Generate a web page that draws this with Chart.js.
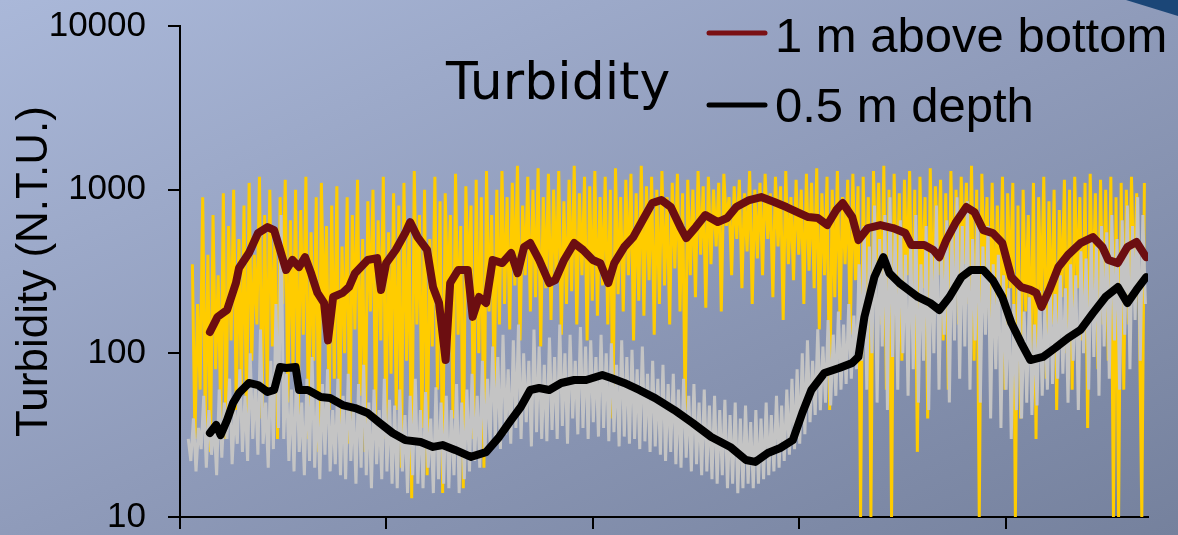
<!DOCTYPE html>
<html>
<head>
<meta charset="utf-8">
<title>Turbidity</title>
<script src="https://cdn.jsdelivr.net/npm/chart.js@4.4.1/dist/chart.umd.min.js"></script>
<style>
    html, body { margin: 0; padding: 0; }
    body {
        width: 1178px; height: 535px; overflow: hidden; position: relative;
        background: linear-gradient(to bottom right, rgb(170, 184, 217) 0%, rgb(143, 155, 186) 50%, rgb(117, 129, 157) 100%);
    }
    #chart-wrap { position: absolute; left: 0; top: 0; width: 1178px; height: 535px; }
    #corner {
        position: absolute; right: 0; top: 0; width: 52px; height: 16px;
        background: #1b4677; clip-path: polygon(0 0, 100% 0, 100% 100%);
    }
</style>
</head>
<body>
<div id="chart-wrap"><canvas id="turbidity-canvas" width="1178" height="535"></canvas></div>
<div id="corner"></div>
<script>
// time axis in days, values in N.T.U.
var xTicks = [0, 1, 2, 3, 4];
var yTicks = [10, 100, 1000, 10000];

var seriesLabels = ['1 m above bottom', '0.5 m depth'];

// smoothed, 1 m above bottom
var redDays = [0.145, 0.182, 0.228, 0.271, 0.286, 0.334, 0.378, 0.424, 0.456, 0.485, 0.514, 0.545, 0.577, 0.606, 0.635, 0.666, 0.698, 0.717, 0.742, 0.788,
    0.819, 0.848, 0.909, 0.955, 0.974, 0.999, 1.045, 1.091, 1.115, 1.151, 1.197, 1.226, 1.255, 1.287, 1.309, 1.348, 1.394, 1.418, 1.449, 1.483,
    1.515, 1.561, 1.604, 1.636, 1.667, 1.697, 1.740, 1.789, 1.818, 1.861, 1.910, 1.953, 2.000, 2.036, 2.075, 2.104, 2.152, 2.196, 2.242, 2.288,
    2.332, 2.378, 2.424, 2.453, 2.499, 2.545, 2.605, 2.651, 2.695, 2.758, 2.816, 2.879, 2.938, 3.001, 3.044, 3.090, 3.136, 3.180, 3.211, 3.257,
    3.287, 3.333, 3.393, 3.454, 3.514, 3.543, 3.606, 3.650, 3.679, 3.713, 3.757, 3.810, 3.849, 3.892, 3.938, 3.984, 4.028, 4.075, 4.120, 4.149,
    4.174, 4.212, 4.256, 4.302, 4.363, 4.423, 4.469, 4.498, 4.544, 4.590, 4.634, 4.681];
var redNtu = [135, 167, 184, 269, 332, 410, 543, 591, 566, 428, 323, 372, 337, 387, 309, 234, 203, 120, 221, 234,
    254, 309, 372, 382, 244, 356, 428, 543, 634, 513, 428, 254, 203, 91, 269, 323, 323, 167, 221, 203,
    372, 356, 410, 309, 446, 472, 372, 269, 280, 372, 472, 428, 372, 356, 269, 356, 446, 513, 652, 828,
    864, 783, 591, 506, 591, 700, 634, 671, 783, 864, 901, 840, 783, 720, 680, 671, 608, 751, 828, 680,
    492, 583, 608, 583, 543, 459, 459, 428, 387, 492, 625, 783, 730, 566, 543, 472, 292, 254, 244, 234,
    192, 244, 337, 399, 472, 513, 446, 372, 356, 446, 479, 387];

// smoothed, 0.5 m depth
var blackDays = [0.145, 0.175, 0.197, 0.228, 0.257, 0.286, 0.334, 0.378, 0.424, 0.456, 0.485, 0.514, 0.560, 0.577, 0.620, 0.682, 0.727, 0.788, 0.848, 0.909,
    0.969, 1.030, 1.091, 1.166, 1.226, 1.272, 1.333, 1.409, 1.483, 1.546, 1.604, 1.651, 1.697, 1.740, 1.789, 1.847, 1.910, 1.968, 2.046, 2.089,
    2.152, 2.225, 2.302, 2.395, 2.484, 2.574, 2.666, 2.742, 2.787, 2.848, 2.908, 2.969, 3.015, 3.059, 3.122, 3.194, 3.257, 3.287, 3.316, 3.364,
    3.408, 3.437, 3.485, 3.529, 3.575, 3.635, 3.679, 3.728, 3.786, 3.832, 3.892, 3.938, 3.984, 4.028, 4.075, 4.120, 4.181, 4.241, 4.302, 4.363,
    4.423, 4.484, 4.544, 4.590, 4.634, 4.681];
var blackNtu = [32.6, 36.5, 31.7, 39.1, 49.7, 57.2, 65.9, 64.0, 58.0, 59.7, 82.5, 81.3, 82.5, 59.7, 59.7, 54.1, 53.3, 48.3, 46.3, 43.2,
    37.5, 32.6, 29.5, 28.7, 26.8, 27.5, 25.7, 23.3, 24.9, 30.8, 39.1, 47.0, 59.7, 61.4, 59.7, 65.9, 68.7, 68.7, 73.7, 70.6,
    65.9, 59.7, 53.3, 45.0, 37.5, 30.8, 26.8, 22.3, 21.7, 24.6, 26.4, 29.5, 43.2, 59.7, 75.8, 81.3, 87.3, 95.0, 167, 292,
    387, 309, 269, 244, 221, 203, 184, 221, 292, 323, 323, 280, 221, 153, 116, 91, 95, 108, 124, 139,
    176, 221, 254, 203, 244, 292];

// raw readings, one every 0.0125 day (18 min)
var rawStep = 0.0125;
var yellowStart = 0.06;
var yellowNtu = [
    350, 30, 200, 60, 900, 35, 400, 25, 700, 80, 300, 40, 950, 30, 600, 120, 1000, 45, 500, 60,
    800, 35, 1100, 90, 400, 150, 1200, 40, 700, 60, 1000, 110, 500, 30, 900, 200, 1150, 50, 650, 80,
    1000, 40, 750, 130, 1200, 30, 550, 90, 900, 25, 1100, 160, 600, 45, 800, 70, 1050, 35, 450, 100,
    900, 28, 700, 140, 1150, 55, 500, 25, 850, 180, 1000, 40, 650, 120, 1200, 30, 550, 75, 950, 45,
    800, 20, 1100, 90, 600, 13, 1300, 150, 700, 35, 1000, 18, 500, 110, 1200, 60, 850, 14, 950, 200,
    700, 40, 1250, 130, 600, 15, 1050, 250, 800, 30, 1150, 100, 900, 20, 1300, 180, 700, 60, 1000, 150,
    1300, 200, 900, 140, 1100, 260, 1400, 120, 800, 300, 1200, 180, 1000, 220, 1350, 110, 900, 250, 1250, 160,
    1000, 280, 1300, 130, 850, 200, 1150, 240, 1400, 150, 950, 300, 1200, 120, 1050, 210, 1300, 170, 900, 260,
    1200, 150, 1000, 40, 1350, 230, 900, 180, 1150, 300, 1250, 120, 950, 210, 1400, 170, 1050, 280, 1200, 130,
    1000, 200, 1300, 260, 900, 150, 1100, 330, 1250, 180, 950, 45, 1150, 300, 1000, 220, 1300, 400, 1050, 190,
    1200, 350, 1000, 450, 1100, 180, 1250, 600, 900, 300, 1050, 500, 1150, 250, 950, 420, 1300, 200, 1000, 380,
    1100, 300, 1250, 500, 950, 220, 1200, 450, 1050, 160, 1300, 350, 900, 280, 1150, 400, 1000, 200, 1250, 320,
    1100, 250, 1350, 140, 950, 300, 1200, 45, 1000, 220, 1300, 160, 900, 350, 1150, 130, 1250, 280, 1050, 10,
    1200, 200, 900, 10, 1300, 300, 1100, 150, 1400, 60, 1000, 10, 1250, 220, 950, 90, 1150, 300, 1300, 140,
    1000, 25, 1200, 250, 900, 40, 1350, 180, 1050, 300, 1150, 120, 950, 60, 1300, 220, 1000, 150, 1200, 350,
    1100, 200, 1400, 90, 1000, 10, 1250, 280, 900, 150, 1100, 150, 800, 200, 1200, 60, 950, 250, 1100, 10,
    800, 40, 1000, 180, 700, 90, 1100, 30, 900, 200, 1200, 70, 850, 150, 1000, 45, 750, 220, 1150, 100,
    1000, 60, 1200, 250, 900, 120, 1100, 35, 1250, 200, 950, 80, 1150, 150, 1000, 90, 1200, 10, 900, 10,
    1100, 60, 1000, 150, 1200, 250, 950, 200, 10, 1100];
var grayStart = 0.04;
var grayNtu = [
    30, 22, 40, 19, 35, 26, 55, 20, 45, 24, 38, 18, 60, 23, 50, 30, 70, 21, 45, 28,
    80, 25, 55, 22, 100, 30, 65, 24, 140, 28, 50, 20, 90, 26, 200, 35, 700, 30, 75, 22,
    60, 19, 85, 25, 50, 18, 70, 22, 95, 20, 55, 17, 65, 24, 80, 19, 45, 21, 70, 18,
    55, 17, 75, 22, 48, 16, 65, 20, 85, 18, 50, 15, 60, 21, 45, 17, 70, 19, 52, 16,
    48, 15, 60, 19, 42, 14, 55, 18, 70, 16, 45, 15, 58, 20, 40, 14, 62, 17, 50, 16,
    55, 15, 45, 18, 65, 14, 50, 17, 60, 19, 75, 22, 55, 20, 90, 25, 70, 28, 110, 30,
    95, 26, 130, 32, 80, 28, 120, 35, 150, 30, 100, 38, 90, 27, 140, 33, 110, 30, 85, 29,
    125, 34, 95, 30, 150, 36, 100, 28, 130, 40, 90, 32, 145, 35, 110, 30, 120, 38, 95, 31,
    130, 35, 100, 29, 115, 33, 85, 27, 120, 31, 95, 28, 105, 30, 80, 26, 110, 29, 75, 25,
    90, 27, 70, 24, 85, 22, 65, 25, 75, 21, 60, 20, 70, 23, 55, 19, 65, 21, 50, 18,
    60, 19, 48, 17, 55, 16, 45, 18, 52, 15, 42, 16, 50, 14, 40, 15, 48, 16, 38, 15,
    45, 16, 40, 17, 50, 18, 42, 19, 55, 20, 48, 22, 60, 24, 70, 26, 80, 28, 100, 32,
    120, 38, 90, 42, 140, 45, 110, 50, 160, 48, 130, 55, 180, 60, 150, 65, 200, 70, 170, 80,
    350, 90, 600, 60, 450, 100, 800, 50, 500, 110, 700, 45, 900, 95, 550, 60, 650, 100, 400, 55,
    500, 80, 700, 50, 350, 90, 600, 45, 450, 100, 800, 60, 400, 130, 650, 50, 550, 120, 900, 70,
    600, 110, 850, 60, 500, 120, 700, 50, 450, 130, 600, 40, 350, 80, 400, 35, 300, 60, 250, 30,
    200, 45, 260, 40, 180, 50, 220, 42, 150, 48, 240, 55, 190, 60, 280, 65, 230, 70, 300, 75,
    250, 50, 350, 90, 300, 45, 420, 100, 380, 60, 500, 95, 450, 55, 600, 110, 550, 70, 700, 120,
    500, 60, 650, 130, 800, 80, 600, 160, 900, 90, 700, 200];

function pairUp(days, values) {
    return values.map(function(v, i) { return { x: days[i], y: v }; });
}

function rawSeries(start, values) {
    return values.map(function(v, i) { return { x: start + i * rawStep, y: v }; });
}

function fixedTicks(list) {
    return function(scale) {
        scale.ticks = list.map(function(v) { return { value: v }; });
    };
}

var redColor = 'rgb(108, 14, 17)';

// title inside the plot and the legend at top right
var overlayText = {
    id: 'overlayText',
    afterDraw: function(chart) {
        var ctx = chart.ctx;
        ctx.save();
        ctx.fillStyle = '#000';
        ctx.textBaseline = 'alphabetic';
        ctx.textAlign = 'left';
        ctx.font = '52px "DejaVu Sans"';
        ctx.fillText('Turbidity', 446, 99);

        var rows = [
            { text: chart.data.datasets[0].label, color: 'rgb(122, 16, 20)', lineY: 33, baseY: 52 },
            { text: chart.data.datasets[1].label, color: '#000', lineY: 105, baseY: 122 }
        ];
        ctx.font = '49px "Liberation Sans"';
        rows.forEach(function(r) {
            ctx.strokeStyle = r.color;
            ctx.lineWidth = 5;
            ctx.lineCap = 'round';
            ctx.beginPath();
            ctx.moveTo(709, r.lineY);
            ctx.lineTo(765, r.lineY);
            ctx.stroke();
            ctx.fillText(r.text, 775, r.baseY);
        });
        ctx.restore();
    }
};

document.addEventListener('DOMContentLoaded', function() {
    var ctx = document.getElementById('turbidity-canvas').getContext('2d');

    var tickGrid = {
        drawOnChartArea: false,
        drawTicks: true,
        tickLength: 12,
        color: '#000',
        lineWidth: 2
    };

    new Chart(ctx, {
        type: 'line',
        data: {
            datasets: [{
                label: seriesLabels[0],
                data: pairUp(redDays, redNtu),
                borderColor: redColor,
                borderWidth: 8,
                borderJoinStyle: 'round',
                borderCapStyle: 'round',
                pointRadius: 0,
                order: 0
            }, {
                label: seriesLabels[1],
                data: pairUp(blackDays, blackNtu),
                borderColor: '#000',
                borderWidth: 8,
                borderJoinStyle: 'round',
                borderCapStyle: 'round',
                pointRadius: 0,
                order: 1
            }, {
                label: 'raw 0.5 m depth',
                data: rawSeries(grayStart, grayNtu),
                borderColor: 'rgb(196, 196, 196)',
                borderWidth: 3,
                pointRadius: 0,
                order: 2
            }, {
                label: 'raw 1 m above bottom',
                data: rawSeries(yellowStart, yellowNtu),
                borderColor: 'rgb(255, 204, 0)',
                borderWidth: 3,
                pointRadius: 0,
                order: 3
            }]
        },
        options: {
            responsive: false,
            animation: false,
            devicePixelRatio: 1,
            layout: {
                autoPadding: false,
                padding: { top: 26, right: 30, bottom: 6, left: 0 }
            },
            plugins: {
                legend: { display: false },
                tooltip: { enabled: false }
            },
            scales: {
                x: {
                    type: 'linear',
                    min: 0,
                    max: 4.69,
                    afterBuildTicks: fixedTicks(xTicks),
                    afterFit: function(scale) { scale.height = 12; },
                    ticks: { display: false },
                    grid: tickGrid,
                    border: { display: true, color: '#000', width: 2 }
                },
                y: {
                    type: 'logarithmic',
                    min: 10,
                    max: 10000,
                    afterBuildTicks: fixedTicks(yTicks),
                    afterFit: function(scale) {
                        scale.width = 180;
                        scale.paddingTop = 0;
                        scale.paddingBottom = 0;
                    },
                    ticks: {
                        color: '#000',
                        padding: 22,
                        font: { family: '"Liberation Sans"', size: 35, lineHeight: 1 },
                        callback: function(value) { return String(value); }
                    },
                    grid: tickGrid,
                    border: { display: true, color: '#000', width: 2 },
                    title: {
                        display: true,
                        text: 'Turbidity (N.T.U.)',
                        color: '#000',
                        font: { family: '"Liberation Sans"', size: 44, lineHeight: 1 },
                        padding: { top: 13, bottom: 0 }
                    }
                }
            }
        },
        plugins: [overlayText]
    });
});
</script>
</body>
</html>
